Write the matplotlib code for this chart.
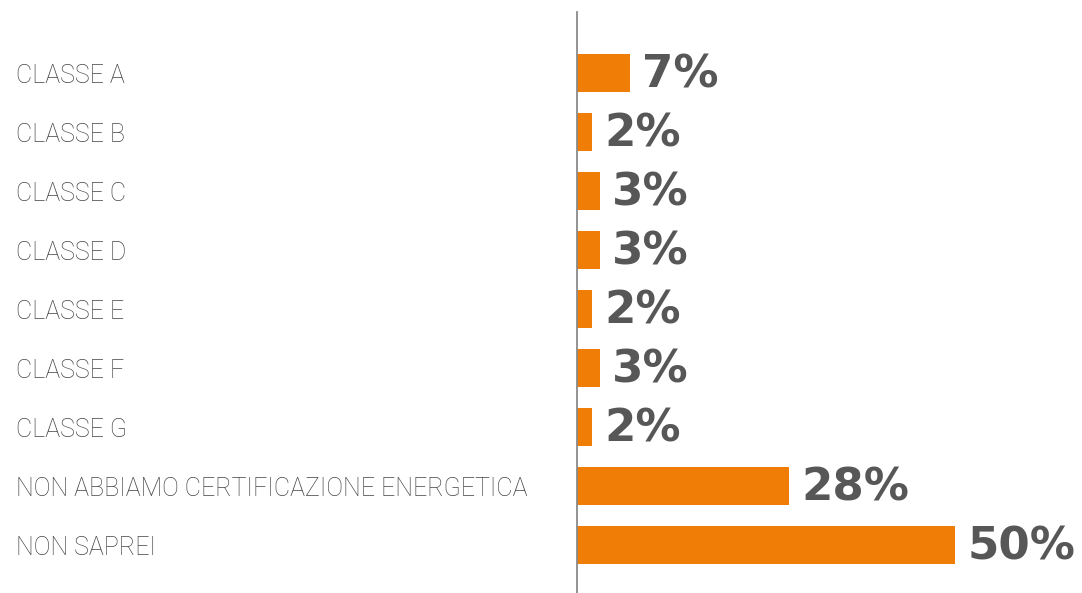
import matplotlib
matplotlib.use("Agg")
import matplotlib.pyplot as plt
from matplotlib.transforms import blended_transform_factory

categories = [
    "CLASSE A", "CLASSE B", "CLASSE C", "CLASSE D", "CLASSE E",
    "CLASSE F", "CLASSE G",
    "NON ABBIAMO CERTIFICAZIONE ENERGETICA", "NON SAPREI",
]
values = [7, 2, 3, 3, 2, 3, 2, 28, 50]
value_labels = [f"{v}%" for v in values]

BAR_COLOR = "#F07D05"
TEXT_COLOR = "#575757"

W, H = 1082, 593
fig = plt.figure(figsize=(W / 100, H / 100), dpi=100)
ax = fig.add_axes([577 / W, 0, 1 - 577 / W, (593 - 12) / H])

ypos = list(range(len(categories)))
ax.barh(ypos, values, height=0.63, color=BAR_COLOR)

ax.set_xlim(0, 50 * (W - 577) / (955 - 577))
ax.set_ylim(8.814, -1.034)

for s in ["top", "right", "bottom"]:
    ax.spines[s].set_visible(False)
ax.spines["left"].set_color("#8a8a8a")
ax.spines["left"].set_linewidth(1.3)
ax.set_xticks([])
ax.set_yticks([])

# value labels at the end of each bar
for y, v, lab in zip(ypos, values, value_labels):
    ax.annotate(lab, (v, y), xytext=(9, -1.5), textcoords="offset points",
                va="center", ha="left", fontsize=32.5, fontweight="bold",
                family="DejaVu Sans", color=TEXT_COLOR)

# category labels on the left edge of the figure
trans = blended_transform_factory(fig.transFigure, ax.transData)
for y, cat in zip(ypos, categories):
    ax.annotate(cat, (16 / W, y), xycoords=trans, xytext=(0, -2.5),
                textcoords="offset points", va="center", ha="left",
                fontsize=18, family="Roboto", fontweight="light",
                color="#444444", annotation_clip=False)

fig.savefig("out.png", dpi=100)
